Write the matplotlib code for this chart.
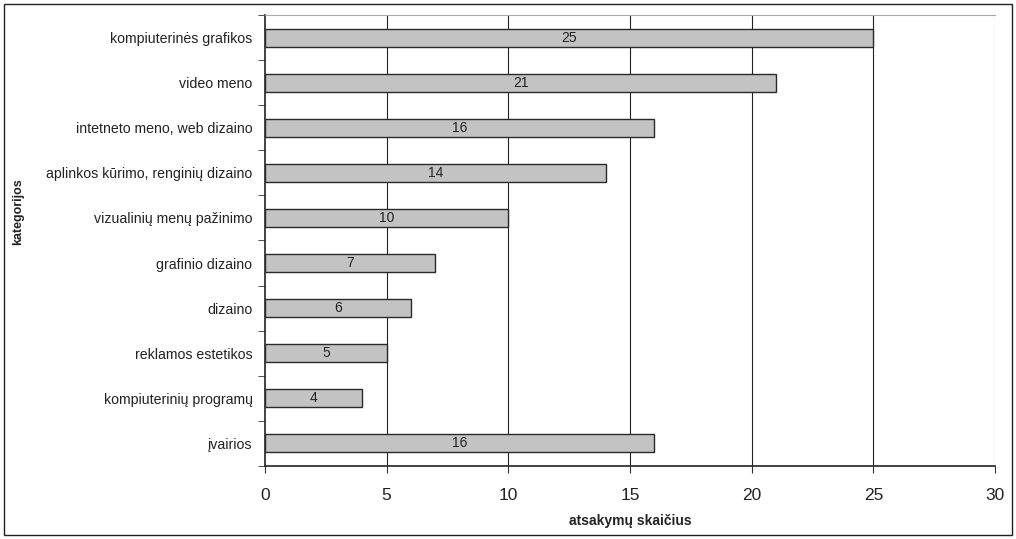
import matplotlib.pyplot as plt
from matplotlib.patches import Rectangle

plt.rcParams['font.family'] = ['Liberation Sans', 'DejaVu Sans']

# Data
categories = ['kompiuterinės grafikos', 'video meno', 'intetneto meno, web dizaino',
              'aplinkos kūrimo, renginių dizaino', 'vizualinių menų pažinimo',
              'grafinio dizaino', 'dizaino', 'reklamos estetikos',
              'kompiuterinių programų', 'įvairios']
values = [25, 21, 16, 14, 10, 7, 6, 5, 4, 16]
xticks = [0, 5, 10, 15, 20, 25, 30]

fig = plt.figure(figsize=(10.16, 5.39), dpi=100)
ax = fig.add_axes([265 / 1016, 1 - 466 / 539, 730 / 1016, 451 / 539])

n = len(categories)
ypos = list(range(n))
ax.barh(ypos, values, height=0.4, color='#c3c3c3', edgecolor='#2a2a2a', linewidth=1.0, zorder=3)
for y, v in zip(ypos, values):
    ax.text(v / 2, y, str(v), ha='center', va='center', fontsize=10, color='#222222', zorder=4)

ax.set_xlim(0, 30)
ax.set_ylim(n - 0.5, -0.5)
ax.set_xticks(xticks)
ax.set_xticklabels([str(t) for t in xticks], fontsize=12.5, color='#222222')
ax.set_yticks(ypos)
ax.set_yticklabels(categories, fontsize=10.2, color='#222222')
ax.tick_params(axis='y', length=0, pad=9)
ax.set_yticks([i - 0.5 for i in range(n + 1)], minor=True)
ax.tick_params(axis='y', which='minor', length=5, direction='out', color='#333333')
ax.tick_params(axis='x', length=5, direction='out', color='#333333', pad=11)

for t in xticks[1:-1]:
    ax.axvline(t, color='#222222', linewidth=0.8, zorder=1)
ax.axvline(30, color='#999999', linewidth=0.8, zorder=1)

ax.spines['top'].set_color('#aaaaaa')
ax.spines['right'].set_visible(False)
ax.spines['left'].set_color('#222222')
ax.spines['bottom'].set_color('#222222')
ax.spines['left'].set_linewidth(1.2)
ax.spines['bottom'].set_linewidth(1.2)

ax.set_xlabel('atsakymų skaičius', fontsize=10, fontweight='bold', labelpad=8, color='#222222')
fig.text(18 / 1016, 1 - 212 / 539, 'kategorijos', rotation=90, fontsize=9,
         fontweight='bold', ha='center', va='center', color='#222222')

fig.patches.append(Rectangle((4 / 1016, 4 / 539), 1008 / 1016, 531 / 539,
                             transform=fig.transFigure, fill=False,
                             edgecolor='#222222', linewidth=1.0))

fig.savefig('out.png', dpi=100)
